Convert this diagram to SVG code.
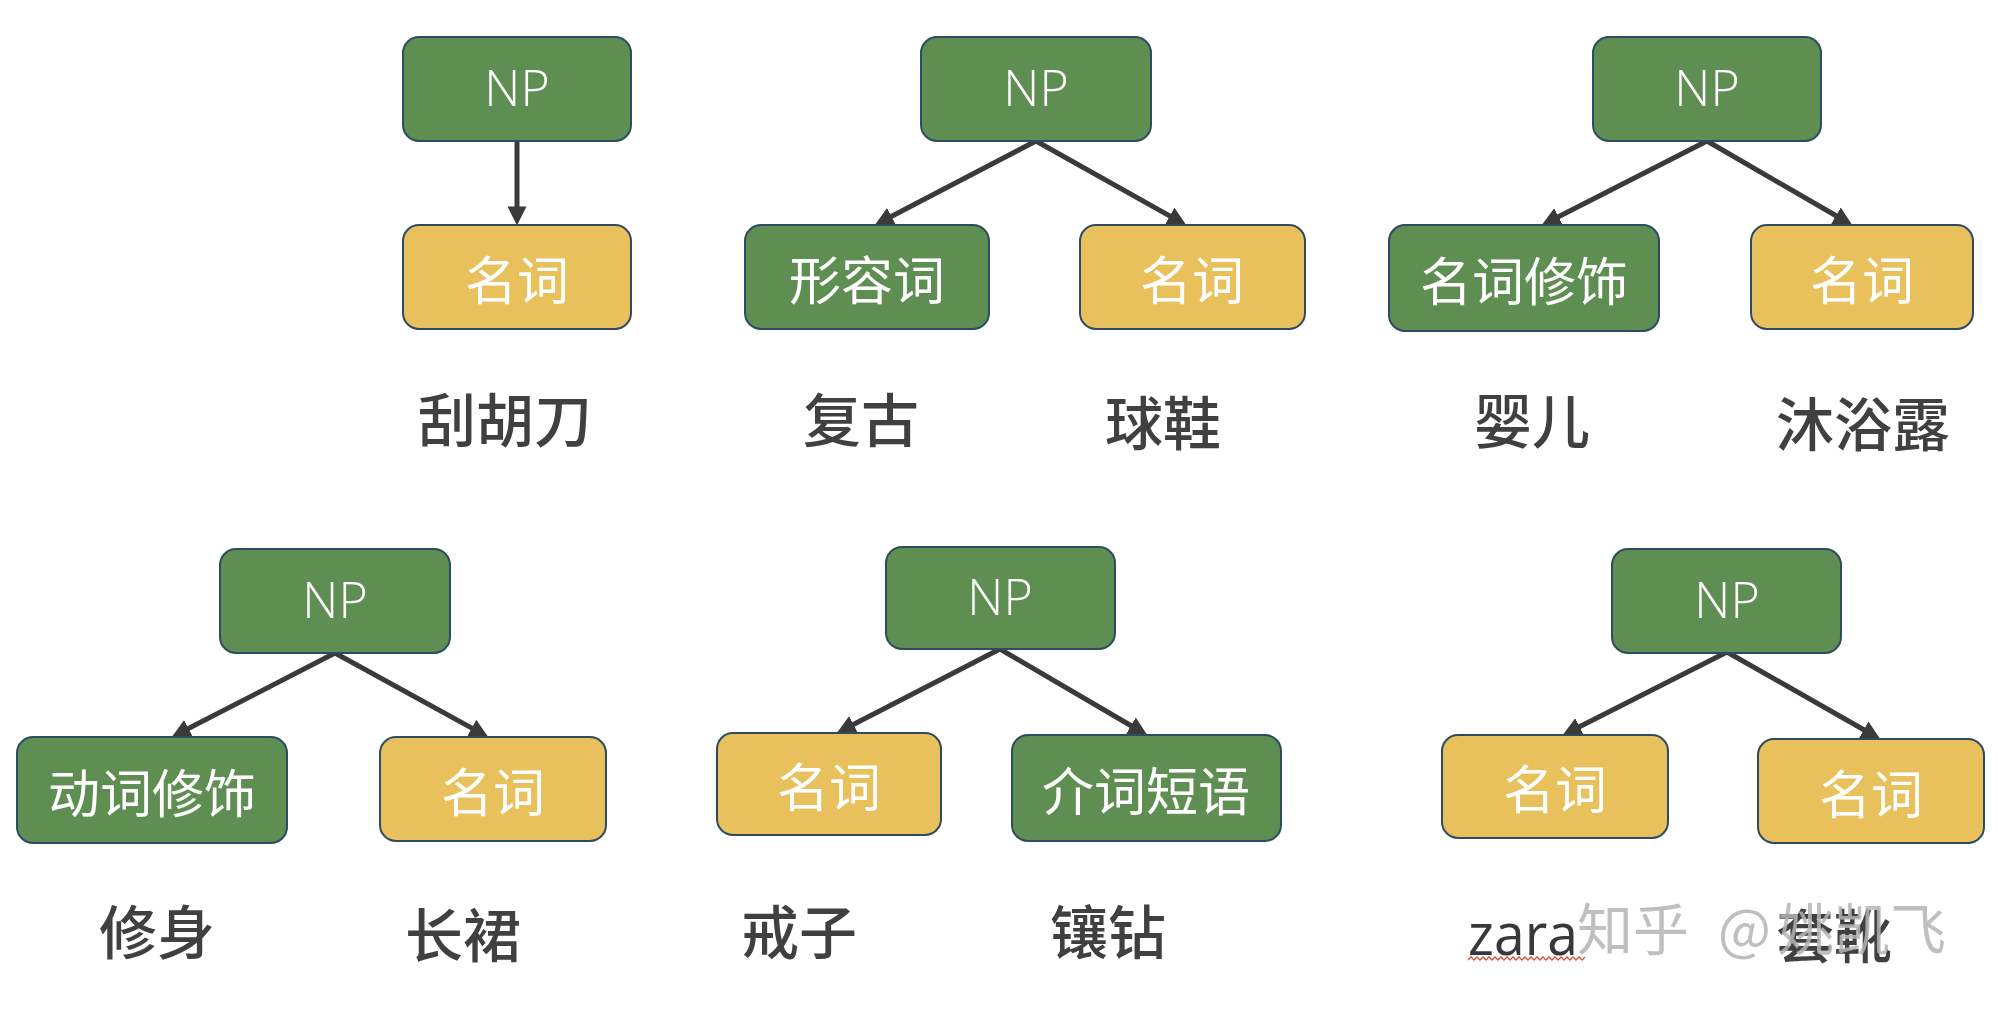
<svg xmlns="http://www.w3.org/2000/svg" width="1998" height="1012" viewBox="0 0 1998 1012">
<style>
.g{fill:#5E8E52;stroke:#2F4B63;stroke-width:2}
.y{fill:#E9C15C;stroke:#2F4B63;stroke-width:2}
.np{font-family:"Open Sans","Noto Sans",sans-serif;font-size:50px;font-weight:350;fill:#FFFFFF;text-anchor:middle}
.bl{font-family:"Noto Sans CJK SC",sans-serif;font-size:52px;fill:#FFFFFF;text-anchor:middle;dominant-baseline:central}
.w{font-family:"Noto Sans CJK SC",sans-serif;font-size:58px;font-weight:500;fill:#404040;text-anchor:middle}
.c{stroke:#3A3A3A;stroke-width:5;fill:none;marker-end:url(#ah)}
</style>
<defs>
<marker id="ah" viewBox="0 0 10 10" refX="5.56" refY="5" markerWidth="3.8" markerHeight="3.8" orient="auto">
<path d="M0,0 L10,5 L0,10 z" fill="#3A3A3A"/>
</marker>
</defs>
<rect width="1998" height="1012" fill="#FFFFFF"/>

<g id="connectors">
<line class="c" x1="517" y1="141" x2="517" y2="217"/>
<line class="c" x1="1036" y1="141" x2="882.1" y2="221.3"/>
<line class="c" x1="1036" y1="141" x2="1179" y2="221.1"/>
<line class="c" x1="1707" y1="141" x2="1549.1" y2="221.4"/>
<line class="c" x1="1707" y1="141" x2="1845.1" y2="221"/>
<line class="c" x1="335" y1="653" x2="179.1" y2="733.3"/>
<line class="c" x1="335" y1="653" x2="481" y2="733.1"/>
<line class="c" x1="1000" y1="649" x2="844.1" y2="729.3"/>
<line class="c" x1="1000" y1="649" x2="1140.1" y2="731"/>
<line class="c" x1="1727" y1="652" x2="1570.1" y2="731.4"/>
<line class="c" x1="1727" y1="652" x2="1873" y2="735"/>
</g>

<!-- Tree 1 -->
<g id="t1-np"><rect class="g" x="403" y="37" width="228" height="104" rx="16"/><text class="np" x="517" y="106">NP</text></g>
<g id="t1-n"><rect class="y" x="403" y="225" width="228" height="104" rx="16"/><text class="bl" x="517" y="277">名词</text></g>
<text class="w" x="505" y="442">刮胡刀</text>

<!-- Tree 2 -->
<g id="t2-np"><rect class="g" x="921" y="37" width="230" height="104" rx="16"/><text class="np" x="1036" y="106">NP</text></g>
<g id="t2-adj"><rect class="g" x="745" y="225" width="244" height="104" rx="16"/><text class="bl" x="867" y="277">形容词</text></g>
<g id="t2-n"><rect class="y" x="1080" y="225" width="225" height="104" rx="16"/><text class="bl" x="1192" y="277">名词</text></g>
<text class="w" x="861" y="442">复古</text>
<text class="w" x="1163" y="445">球鞋</text>

<!-- Tree 3 -->
<g id="t3-np"><rect class="g" x="1593" y="37" width="228" height="104" rx="16"/><text class="np" x="1707" y="106">NP</text></g>
<g id="t3-nmod"><rect class="g" x="1389" y="225" width="270" height="106" rx="16"/><text class="bl" x="1524" y="278">名词修饰</text></g>
<g id="t3-n"><rect class="y" x="1751" y="225" width="222" height="104" rx="16"/><text class="bl" x="1862" y="277">名词</text></g>
<text class="w" x="1532" y="443">婴儿</text>
<text class="w" x="1863" y="446">沐浴露</text>

<!-- Tree 4 -->
<g id="t4-np"><rect class="g" x="220" y="549" width="230" height="104" rx="16"/><text class="np" x="335" y="618">NP</text></g>
<g id="t4-vmod"><rect class="g" x="17" y="737" width="270" height="106" rx="16"/><text class="bl" x="152" y="790">动词修饰</text></g>
<g id="t4-n"><rect class="y" x="380" y="737" width="226" height="104" rx="16"/><text class="bl" x="493" y="789">名词</text></g>
<text class="w" x="157" y="954">修身</text>
<text class="w" x="463" y="957">长裙</text>

<!-- Tree 5 -->
<g id="t5-np"><rect class="g" x="886" y="547" width="229" height="102" rx="16"/><text class="np" x="1000" y="615">NP</text></g>
<g id="t5-n"><rect class="y" x="717" y="733" width="224" height="102" rx="16"/><text class="bl" x="829" y="784">名词</text></g>
<g id="t5-pp"><rect class="g" x="1012" y="735" width="269" height="106" rx="16"/><text class="bl" x="1146" y="788">介词短语</text></g>
<text class="w" x="799" y="954">戒子</text>
<text class="w" x="1108" y="954">镶钻</text>

<!-- Tree 6 -->
<g id="t6-np"><rect class="g" x="1612" y="549" width="229" height="104" rx="16"/><text class="np" x="1727" y="618">NP</text></g>
<g id="t6-n1"><rect class="y" x="1442" y="735" width="226" height="103" rx="16"/><text class="bl" x="1555" y="786">名词</text></g>
<g id="t6-n2"><rect class="y" x="1758" y="739" width="226" height="104" rx="16"/><text class="bl" x="1871" y="791">名词</text></g>
<text x="1468" y="955" font-family="'Open Sans','Noto Sans',sans-serif" font-size="58" font-weight="500" fill="#383838" textLength="110" lengthAdjust="spacingAndGlyphs">zara</text>
<path d="M1468,960 l3,-3 l3,3 l3,-3 l3,3 l3,-3 l3,3 l3,-3 l3,3 l3,-3 l3,3 l3,-3 l3,3 l3,-3 l3,3 l3,-3 l3,3 l3,-3 l3,3 l3,-3 l3,3 l3,-3 l3,3 l3,-3 l3,3 l3,-3 l3,3 l3,-3 l3,3 l3,-3 l3,3 l3,-3 l3,3 l3,-3 l3,3 l3,-3 l3,3 l3,-3 l3,3 l3,-3" fill="none" stroke="#D0503E" stroke-width="1.3"/>
<text class="w" x="1834" y="958" fill="#333333">套靴</text>
<text x="1577" y="950" font-family="'Noto Sans CJK SC',sans-serif" font-size="56" fill="#B5B5B5" opacity="0.85">知乎<tspan x="1718">@</tspan><tspan x="1778">姚凯飞</tspan></text>
</svg>
